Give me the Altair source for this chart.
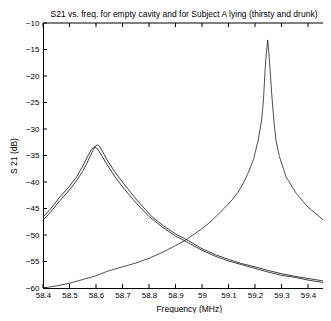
import altair as alt
import pandas as pd

# Empty cavity
empty_freq = [58.40, 58.45, 58.50, 58.55, 58.60, 58.64, 58.70, 58.75, 58.80, 58.85,
              58.90, 58.94, 58.992, 59.025, 59.055, 59.085, 59.11, 59.135, 59.156,
              59.175, 59.194, 59.212, 59.225, 59.232, 59.238, 59.243, 59.248, 59.252,
              59.257, 59.264, 59.271, 59.279, 59.292, 59.317, 59.355, 59.399, 59.449,
              59.487, 59.50]
empty_db = [-60.0, -59.6, -59.1, -58.4, -57.7, -56.9, -56.0, -55.3, -54.4, -53.3,
            -52.0, -50.9, -49.1, -47.8, -46.4, -44.9, -43.6, -42.0, -40.2,
            -38.2, -35.8, -32.1, -28.3, -24.5, -18.9, -15.5, -13.2, -15.5,
            -18.9, -24.0, -28.3, -32.1, -35.2, -39.0, -42.1, -44.7, -46.8,
            -48.3, -48.7]

# Subject A lying, thirsty
thirsty_freq = [58.40, 58.43, 58.464, 58.50, 58.527, 58.55, 58.565, 58.58, 58.588,
                58.596, 58.603, 58.61, 58.625, 58.64, 58.67, 58.70, 58.75, 58.80,
                58.85, 58.90, 58.95, 59.00, 59.05, 59.10, 59.15, 59.20, 59.25, 59.30,
                59.35, 59.40, 59.45, 59.50]
thirsty_db = [-46.6, -45.0, -42.8, -40.8, -39.0, -37.0, -35.5, -34.1, -33.6,
              -33.4, -33.6, -34.1, -35.3, -36.6, -38.9, -40.9, -43.9, -46.5,
              -48.5, -50.2, -51.5, -52.9, -54.0, -54.9, -55.6, -56.3, -57.0, -57.6,
              -58.0, -58.5, -58.9, -59.3]

# Subject A lying, drunk
drunk_freq = [58.40, 58.43, 58.464, 58.50, 58.527, 58.55, 58.57, 58.59, 58.598,
              58.605, 58.612, 58.62, 58.64, 58.67, 58.703, 58.754, 58.81, 58.85,
              58.90, 58.95, 59.00, 59.05, 59.10, 59.15, 59.20, 59.25, 59.30, 59.35,
              59.40, 59.45, 59.50]
drunk_db = [-47.2, -45.6, -43.5, -41.5, -39.7, -38.0, -36.0, -33.9, -33.2,
            -33.0, -33.2, -33.8, -35.7, -38.0, -40.2, -43.4, -46.5, -48.1,
            -49.8, -51.1, -52.6, -53.7, -54.6, -55.4, -56.0, -56.7, -57.3, -57.8,
            -58.2, -58.6, -59.0]

series_names = ["Empty cavity", "Subject A thirsty", "Subject A drunk"]

x_ticks = [58.4, 58.5, 58.6, 58.7, 58.8, 58.9, 59.0, 59.1, 59.2, 59.3, 59.4]
y_ticks = [-10, -15, -20, -25, -30, -35, -40, -45, -50, -55, -60]

rows = []
for name, fs, ds in zip(series_names,
                        [empty_freq, thirsty_freq, drunk_freq],
                        [empty_db, thirsty_db, drunk_db]):
    for i, (f, d) in enumerate(zip(fs, ds)):
        rows.append({"series": name, "freq": f, "db": d, "order": i})
df = pd.DataFrame(rows)

W, H = 280, 265
XR = 291.5
FONT = "Liberation Sans"

xscale = alt.Scale(domain=[58.4, 59.5], range=[0, XR], nice=False, zero=False)
yscale = alt.Scale(domain=[-60, -10], nice=False, zero=False)

xaxis = alt.Axis(values=x_ticks, format="~g", title="Frequency (MHz)",
                 ticks=False, grid=False, domainColor="black",
                 labelOverlap=False, labelFlush=False, labelBound=False,
                 labelPadding=3, titlePadding=5)
yaxis = alt.Axis(values=y_ticks, format="d", title="S 21 (dB)",
                 ticks=False, grid=False, domainColor="black",
                 labelOverlap=False, labelFlush=False, labelBound=False,
                 labelPadding=4, titlePadding=7)

lines = alt.Chart(df).mark_line(clip=False, strokeWidth=0.8).encode(
    x=alt.X("freq:Q", scale=xscale, axis=xaxis),
    y=alt.Y("db:Q", scale=yscale, axis=yaxis),
    color=alt.Color("series:N", scale=alt.Scale(domain=series_names,
                                                range=["#222222", "#111111", "#111111"]),
                    legend=None),
    order="order:Q",
)

xt = pd.DataFrame({"v": x_ticks})
yt = pd.DataFrame({"v": y_ticks})

bottom_ticks = alt.Chart(xt).mark_rule(color="black", strokeWidth=1).encode(
    x=alt.X("v:Q", scale=xscale, axis=xaxis), y=alt.value(H), y2=alt.value(H - 4))
top_ticks = alt.Chart(xt).mark_rule(color="black", strokeWidth=1).encode(
    x=alt.X("v:Q", scale=xscale, axis=xaxis), y=alt.value(0), y2=alt.value(4))
left_ticks = alt.Chart(yt).mark_rule(color="black", strokeWidth=1).encode(
    y=alt.Y("v:Q", scale=yscale, axis=yaxis), x=alt.value(0), x2=alt.value(4))
top_border = alt.Chart(xt.head(1)).mark_rule(color="black", strokeWidth=1).encode(
    x=alt.value(0), x2=alt.value(XR), y=alt.value(0))

chart = alt.layer(lines, bottom_ticks, top_ticks, left_ticks, top_border).properties(
    width=W, height=H,
    autosize=alt.AutoSizeParams(type="none"),
    padding={"left": 35, "top": 15, "right": 0, "bottom": 25},
    title=alt.Title("S21 vs. freq. for empty cavity and for Subject A lying (thirsty and drunk)",
                    font=FONT, fontSize=8.5, fontWeight="normal", color="black",
                    anchor="middle", offset=1, dx=1),
).configure_view(stroke=None).configure_axis(
    labelFont=FONT, labelFontSize=8, labelColor="black",
    titleFont=FONT, titleFontSize=8.5, titleFontWeight="normal", titleColor="black",
    labelOverlap=False,
)

chart.save("out.html", embed_options={"renderer": "svg", "actions": False})
